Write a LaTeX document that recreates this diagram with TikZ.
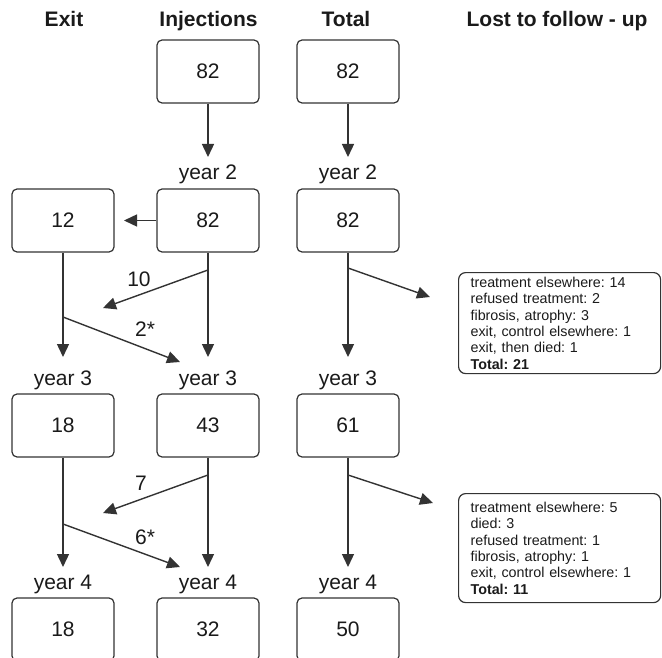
\documentclass[tikz,border=0pt]{standalone}
\usepackage{fontspec}
\setmainfont{Liberation Sans}
\usetikzlibrary{arrows.meta}
\definecolor{ln}{HTML}{333333}
\definecolor{tx}{HTML}{1A1A1A}
\frenchspacing
\begin{document}
\begin{tikzpicture}[x=1pt,y=-1pt,
  numbox/.style={draw=ln, line width=1.2pt, rounded corners=5pt, minimum width=102pt, minimum height=63pt, inner sep=0pt, text=tx, font=\fontsize{21}{24}\selectfont},
  lbl/.style={text=tx, font=\fontsize{21}{24}\selectfont, inner sep=0pt},
  hdr/.style={text=tx, font=\fontsize{21}{24}\selectfont\bfseries, inner sep=0pt, anchor=base},
  yr/.style={text=tx, font=\fontsize{21}{24}\selectfont, inner sep=0pt, anchor=base},
  lostbox/.style={draw=ln, line width=1.2pt, rounded corners=7pt, text width=178pt, inner xsep=12pt, inner ysep=0pt, align=left, text=tx, font=\fontsize{14.3}{16.4}\selectfont\frenchspacing, anchor=north west, minimum width=202pt},
  arr/.style={draw=ln, line width=1.4pt, -{Triangle[length=13pt,width=12pt]}},
]
\useasboundingbox (0,0) rectangle (662,658);

% headers
\node[hdr] (hexit) at (64,27) {Exit};
\node[hdr] (hinj) at (208.5,27) {Injections};
\node[hdr] (htot) at (346,27) {Total};
\node[hdr] (hlost) at (557,27) {Lost to follow - up};

% boxes
\node[numbox] (i1) at (208,71.5) {82};
\node[numbox] (t1) at (348,71.5) {82};

\node[numbox] (e2) at (63,220.5) {12};
\node[numbox] (i2) at (208,220.5) {82};
\node[numbox] (t2) at (348,220.5) {82};

\node[numbox] (e3) at (63,425.5) {18};
\node[numbox] (i3) at (208,425.5) {43};
\node[numbox] (t3) at (348,425.5) {61};

\node[numbox] (e4) at (63,629.5) {18};
\node[numbox] (i4) at (208,629.5) {32};
\node[numbox] (t4) at (348,629.5) {50};

% year labels
\node[yr] (yi2) at (208,180) {year 2};
\node[yr] (yt2) at (348,180) {year 2};
\node[yr] (ye3) at (63,385) {year 3};
\node[yr] (yi3) at (208,385) {year 3};
\node[yr] (yt3) at (348,385) {year 3};
\node[yr] (ye4) at (63,589) {year 4};
\node[yr] (yi4) at (208,589) {year 4};
\node[yr] (yt4) at (348,589) {year 4};

% coordinates
\coordinate (ai2) at (208,157);
\coordinate (at2) at (348,157);
\coordinate (ax2) at (124,220.5);
\coordinate (ae3) at (63,357);
\coordinate (ai3) at (208,357);
\coordinate (at3) at (348,357);
\coordinate (ae4) at (63,567);
\coordinate (ai4) at (208,567);
\coordinate (at4) at (348,567);
\coordinate (b10) at (208,270);
\coordinate (e10) at (103,308);
\coordinate (b2s) at (63,317);
\coordinate (e2s) at (180,362);
\coordinate (b7) at (208,475);
\coordinate (e7) at (103,513);
\coordinate (b6s) at (63,524);
\coordinate (e6s) at (180,567);
\coordinate (bl1) at (348,268);
\coordinate (el1) at (430,297);
\coordinate (bl2) at (348,475);
\coordinate (el2) at (433,503);

% arrows
\draw[arr] (i1) -- (ai2);
\draw[arr] (t1) -- (at2);
\draw[arr] (i2.west) -- (ax2);
\draw[arr] (e2) -- (ae3);
\draw[arr] (i2) -- (ai3);
\draw[arr] (t2) -- (at3);
\draw[arr] (e3) -- (ae4);
\draw[arr] (i3) -- (ai4);
\draw[arr] (t3) -- (at4);
\draw[arr] (b10) -- (e10);
\draw[arr] (b2s) -- (e2s);
\draw[arr] (b7) -- (e7);
\draw[arr] (b6s) -- (e6s);
\draw[arr] (bl1) -- (el1);
\draw[arr] (bl2) -- (el2);

% arrow labels
\node[lbl] (l10) at (139,279) {10};
\node[lbl] (l2s) at (145,329) {2*};
\node[lbl] (l7) at (141,483) {7};
\node[lbl] (l6s) at (145,537) {6*};

% lost to follow-up boxes
\node[lostbox, minimum height=101pt] (lost1) at (458,272) {treatment elsewhere: 14\\refused treatment: 2\\fibrosis, atrophy: 3\\exit, control elsewhere: 1\\exit, then died: 1\\\textbf{Total: 21}};
\node[lostbox, minimum height=109pt] (lost2) at (458,493) {treatment elsewhere: 5\\died: 3\\refused treatment: 1\\fibrosis, atrophy: 1\\exit, control elsewhere: 1\\\textbf{Total: 11}};
\end{tikzpicture}
\end{document}
